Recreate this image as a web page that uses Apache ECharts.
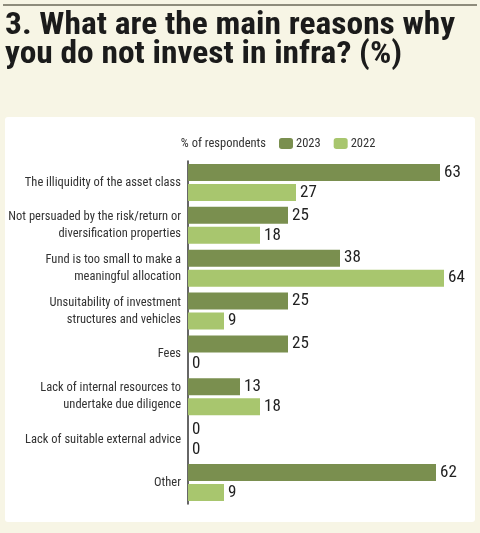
<!DOCTYPE html>
<html>
<head>
<meta charset="utf-8">
<script src="https://cdn.jsdelivr.net/npm/echarts@6/dist/echarts.min.js"></script>
<style>
html,body{margin:0;padding:0;background:#f7f5e5;}
#c{width:480px;height:533px;}
</style>
</head>
<body>
<div id="c"></div>
<script>
var categories = [
  "The illiquidity of the asset class",
  "Not persuaded by the risk/return or\ndiversification properties",
  "Fund is too small to make a\nmeaningful allocation",
  "Unsuitability of investment\nstructures and vehicles",
  "Fees",
  "Lack of internal resources to\nundertake due diligence",
  "Lack of suitable external advice",
  "Other"
];
var values2023 = [63, 25, 38, 25, 25, 13, 0, 62];
var values2022 = [27, 18, 64, 9, 0, 18, 0, 9];
var seriesNames = ["2023", "2022"];
var titleLines = ["3. What are the main reasons why", "you do not invest in infra? (%)"];
var legendCaption = "% of respondents";

var FONT = "'Roboto Condensed','Roboto',sans-serif";
var TITLE_FONT = "bold 31px 'Roboto Condensed',sans-serif";
var chart = echarts.init(document.getElementById('c'));
var labelStyle = {show:true, position:'right', distance:4, fontFamily:FONT, fontSize:17, color:'#222'};
chart.setOption({
  backgroundColor:'#f7f5e5',
  animation:false,
  graphic:[
    {type:'rect', shape:{x:3,y:4,width:474,height:2}, style:{fill:'#8e8c7c'}},
    {type:'rect', shape:{x:5,y:117,width:470,height:405,r:3}, style:{fill:'#ffffff'}},
    {type:'text', x:5, y:26, scaleX:1.08, style:{text:titleLines[0], font:TITLE_FONT, fill:'#1b1b1b', verticalAlign:'middle'}},
    {type:'text', x:5, y:55, scaleX:1.08, style:{text:titleLines[1], font:TITLE_FONT, fill:'#1b1b1b', verticalAlign:'middle'}},
    {type:'text', x:266, y:144, style:{text:legendCaption, font:"12.5px "+FONT, fill:'#333', align:'right', verticalAlign:'middle'}}
  ],
  legend:{
    left:279, top:137, padding:0, itemWidth:14, itemHeight:11, itemGap:13,
    textStyle:{fontFamily:FONT, fontSize:12.5, color:'#333', padding:[0,0,0,-2]},
    data:seriesNames
  },
  grid:{left:188, top:161, width:280, height:343, containLabel:false},
  xAxis:{type:'value', min:0, max:70, show:false},
  yAxis:{
    type:'category', inverse:true, data:categories,
    axisLine:{show:true, lineStyle:{color:'#333', width:1.5}},
    axisTick:{show:false},
    axisLabel:{fontFamily:FONT, fontSize:12.5, color:'#333', lineHeight:17, margin:7, align:'right'}
  },
  series:[
    {name:seriesNames[0], type:'bar', data:values2023, barWidth:17, barGap:'18%', itemStyle:{color:'#7a8f4f'}, label:labelStyle},
    {name:seriesNames[1], type:'bar', data:values2022, barWidth:17, barGap:'18%', itemStyle:{color:'#a8c66e'}, label:labelStyle}
  ]
});
</script>
</body>
</html>
